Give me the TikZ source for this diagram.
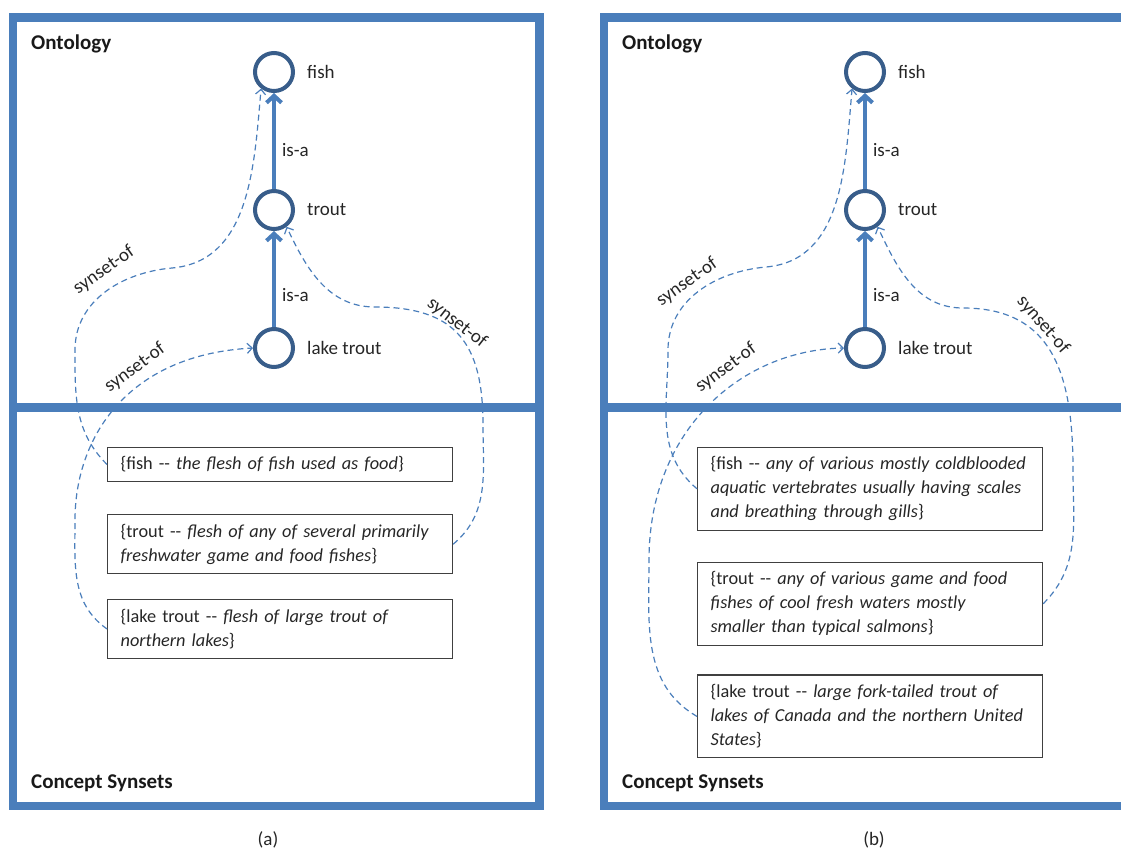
\documentclass[tikz,border=0pt]{standalone}
\usepackage{fontspec}
\setmainfont{Carlito}
\usetikzlibrary{arrows.meta, positioning}

\definecolor{frameblue}{RGB}{74,126,187}
\definecolor{nodeblue}{RGB}{56,93,138}
\definecolor{textgray}{RGB}{38,38,38}

\begin{document}
\begin{tikzpicture}[
    x=1pt, y=-1pt,
    node distance=96pt,
    frame/.style={draw=frameblue, line width=8.5pt},
    concept/.style={circle, draw=nodeblue, line width=4pt, fill=white, minimum size=38pt, inner sep=0pt},
    conceptlbl/.style={font=\fontsize{19}{23}\selectfont, text=textgray, inner sep=0pt},
    isa/.style={-{Straight Barb[length=7pt,width=15pt]}, line width=4pt, frameblue},
    synsetbox/.style={draw=black!75, line width=1.2pt, text width=319pt, align=left, inner xsep=13pt, inner ysep=9.5pt, font=\fontsize{18.3}{24}\selectfont, text=textgray},
    synof/.style={-{Straight Barb[length=5pt,width=10pt]}, frameblue, line width=1.2pt, dash pattern=on 6pt off 4pt},
    heading/.style={font=\bfseries\fontsize{21}{25}\selectfont, text=black!90, anchor=west, inner sep=0pt},
    reltext/.style={font=\fontsize{19}{23}\selectfont, text=textgray, inner sep=1pt}
]
\useasboundingbox (0,0) rectangle (1121,849);
\clip (0,0) rectangle (1121,849);

% (a)
\draw[frame] (13,17.5) rectangle (539.5,806);
\draw[frame] (13,407.5) -- (539.5,407.5);
\node[heading] (aonto) at (31,44) {Ontology};
\node[heading] (asyn) at (31,783) {Concept Synsets};

\node[concept] (afish) at (274,72) {};
\node[concept, below=of afish] (atrout) {};
\node[concept, below=of atrout] (alake) {};
\node[conceptlbl, right=12pt of afish] (afishlbl) {fish};
\node[conceptlbl, right=12pt of atrout] (atroutlbl) {trout};
\node[conceptlbl, right=12pt of alake] (alakelbl) {lake trout};

\draw[isa] (atrout) -- node[reltext, right=5pt, pos=0.41] (aisa1) {is-a} (afish);
\draw[isa] (alake) -- node[reltext, right=5pt, pos=0.33] (aisa2) {is-a} (atrout);

\node[synsetbox, anchor=north west] (afishsyn) at (107,446.5) {\{fish -{}- \textit{the flesh of fish used as food}\}};
\node[synsetbox, below=31.5pt of afishsyn] (atroutsyn) {\{trout -{}- \textit{flesh of any of several primarily}\\\textit{freshwater game and food fishes}\}};
\node[synsetbox, below=24.5pt of atroutsyn] (alakesyn) {\{lake trout -{}- \textit{flesh of large trout of}\\\textit{northern lakes}\}};

\draw[synof] (afishsyn.west) to[out=135,in=-90] (75,350) to[out=90,in=185] (172,268) to[out=5,in=-95] (afish.-128);
\draw[synof] (alakesyn.west) to[out=145,in=-90] (75,520) .. controls (75,440) and (125,355) .. (alake.west);
\draw[synof] (atroutsyn.east) to[out=40,in=-90] (483,425) to[out=90,in=0,looseness=1.3] (375,307) to[out=180,in=-65] (atrout.-53);

\node[reltext, rotate=35] (asof1) at (104,270) {synset-of};
\node[reltext, rotate=36] (asof2) at (135,368) {synset-of};
\node[reltext, rotate=-38] (asof3) at (457,323) {synset-of};

\node[reltext] (acap) at (268,840) {(a)};

% (b)
\begin{scope}[shift={(591,0)}]
\draw[frame] (13,17.5) rectangle (560,806);
\draw[frame] (13,407.5) -- (560,407.5);
\node[heading] (bonto) at (31,44) {Ontology};
\node[heading] (bsyn) at (31,783) {Concept Synsets};

\node[concept] (bfish) at (274,72) {};
\node[concept, below=of bfish] (btrout) {};
\node[concept, below=of btrout] (blake) {};
\node[conceptlbl, right=12pt of bfish] (bfishlbl) {fish};
\node[conceptlbl, right=12pt of btrout] (btroutlbl) {trout};
\node[conceptlbl, right=12pt of blake] (blakelbl) {lake trout};

\draw[isa] (btrout) -- node[reltext, right=5pt, pos=0.41] (bisa1) {is-a} (bfish);
\draw[isa] (blake) -- node[reltext, right=5pt, pos=0.33] (bisa2) {is-a} (btrout);

\node[synsetbox, anchor=north west] (bfishsyn) at (106,446.5) {\{fish -{}- \textit{any of various mostly coldblooded}\\\textit{aquatic vertebrates usually having scales}\\\textit{and breathing through gills}\}};
\node[synsetbox, below=30.5pt of bfishsyn] (btroutsyn) {\{trout -{}- \textit{any of various game and food}\\\textit{fishes of cool fresh waters mostly}\\\textit{smaller than typical salmons}\}};
\node[synsetbox, below=28.5pt of btroutsyn] (blakesyn) {\{lake trout -{}- \textit{large fork-tailed trout of}\\\textit{lakes of Canada and the northern United}\\\textit{States}\}};

\draw[synof] (bfishsyn.west) to[out=140,in=-90] (77,350) to[out=90,in=185] (175,267) to[out=5,in=-95] (bfish.-128);
\draw[synof] (blakesyn.west) to[out=150,in=-90] (58,560) .. controls (58,430) and (150,350) .. (blake.west);
\draw[synof] (btroutsyn.east) to[out=45,in=-90] (482,470) to[out=90,in=0,looseness=1.2] (372,308) to[out=180,in=-65] (btrout.-53);

\node[reltext, rotate=35] (bsof1) at (96,282) {synset-of};
\node[reltext, rotate=36] (bsof2) at (135,368) {synset-of};
\node[reltext, rotate=-49] (bsof3) at (452,325) {synset-of};

\node[reltext] (bcap) at (283,840) {(b)};
\end{scope}
\end{tikzpicture}
\end{document}
